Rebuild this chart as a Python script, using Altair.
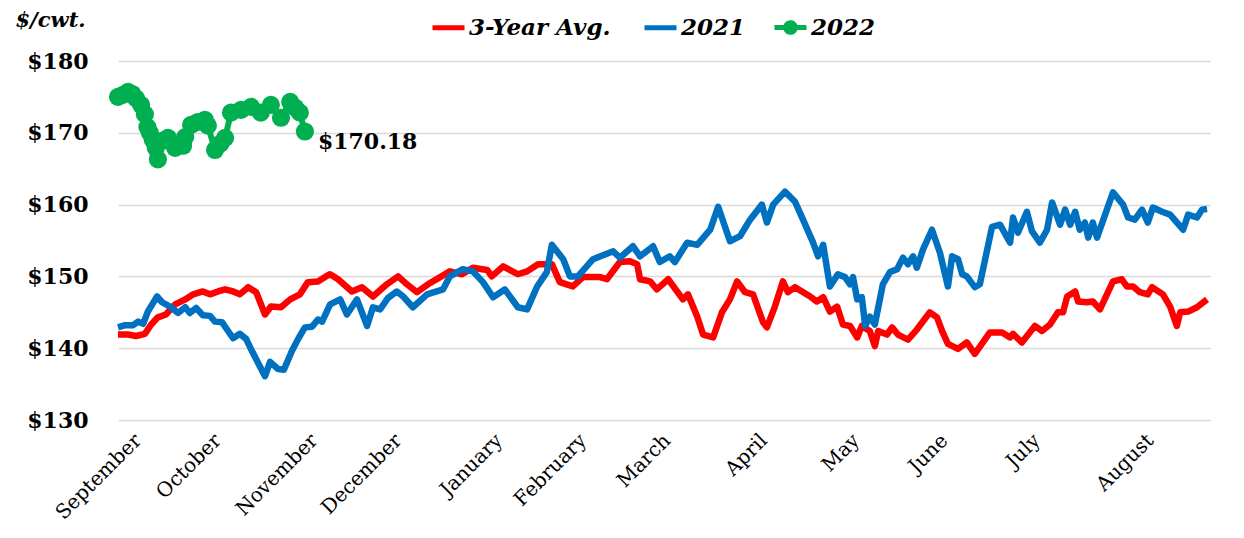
import altair as alt
import pandas as pd

# ---------------- data ----------------
months = ["September", "October", "November", "December", "January", "February",
          "March", "April", "May", "June", "July", "August"]
month_ticks = [3, 22, 45, 65, 89, 109, 129, 152, 174, 195, 217, 244]
y_ticks = [130, 140, 150, 160, 170, 180]

avg_day = [0, 2.4, 4.3, 6.4, 7.9, 9.5, 11.4, 13.6, 16.0, 17.9, 20.2, 21.9, 23.8, 25.5, 27.4, 29.0,
           31.0, 32.9, 35.0, 36.4, 38.8, 41.0, 43.3, 45.2, 47.6, 49.5, 50.5, 52.4, 55.7, 58.1, 60.7,
           64.0, 66.7, 68.8, 71.2, 73.8, 76.7, 79.0, 81.9, 84.5, 87.9, 89.0, 91.7, 95.2, 97.4, 100.0,
           103.3, 105.2, 108.3, 110.7, 114.8, 116.4, 119.5, 121.9, 123.6, 124.3, 126.7, 128.3, 131.0,
           134.5, 135.7, 137.9, 139.3, 141.7, 143.8, 145.7, 147.4, 149.3, 151.2, 153.6, 154.5, 156.4,
           158.3, 159.5, 161.2, 164.8, 166.4, 167.9, 169.5, 171.2, 172.6, 174.3, 176.0, 177.1, 179.0,
           180.2, 181.0, 183.1, 184.3, 185.7, 188.1, 190.2, 193.3, 195.0, 196.2, 197.6, 200.0, 202.1,
           204.0, 207.6, 210.5, 212.4, 213.1, 215.2, 218.3, 220.0, 221.9, 223.8, 225.0, 226.0, 227.9,
           228.6, 230.7, 232.1, 233.8, 236.9, 239.0, 240.2, 241.7, 243.3, 245.2, 246.2, 248.8, 250.5,
           252.1, 252.9, 254.8, 256.9, 259.3]
avg_val = [141.9, 141.9, 141.7, 142.0, 143.3, 144.3, 144.7, 146.1, 146.8, 147.5, 147.9, 147.5, 147.9,
           148.2, 147.9, 147.5, 148.5, 147.8, 144.7, 145.8, 145.7, 146.8, 147.5, 149.2, 149.3, 150.0,
           150.3, 149.6, 147.9, 148.5, 147.2, 148.9, 150.0, 148.9, 147.8, 148.9, 149.9, 150.7, 150.3,
           151.2, 150.9, 150.0, 151.4, 150.3, 150.7, 151.7, 151.7, 149.2, 148.6, 149.9, 149.9, 149.6,
           152.0, 152.1, 151.7, 149.6, 149.3, 148.2, 149.6, 146.8, 147.5, 144.4, 141.9, 141.5, 145.0,
           146.8, 149.3, 147.8, 147.5, 143.6, 142.9, 145.8, 149.3, 147.8, 148.5, 147.2, 146.5, 147.1,
           145.1, 145.8, 143.3, 143.1, 141.5, 143.1, 142.4, 140.3, 142.4, 141.9, 142.9, 141.9, 141.2,
           142.6, 145.0, 144.3, 142.4, 140.6, 139.9, 140.8, 139.2, 142.2, 142.2, 141.5, 142.0, 140.8,
           143.1, 142.4, 143.3, 145.0, 145.0, 147.2, 147.9, 146.5, 146.4, 146.5, 145.4, 149.3, 149.6,
           148.6, 148.6, 147.8, 147.5, 148.5, 147.5, 145.8, 143.1, 145.0, 145.1, 145.7, 146.8]

y2021_day = [0, 1.7, 3.6, 4.8, 6.0, 7.1, 9.3, 10.5, 12.4, 14.3, 16.0, 17.1, 18.6, 20.2, 21.9, 23.1,
             24.8, 26.2, 27.4, 29.0, 30.5, 31.9, 33.3, 35.0, 36.2, 38.1, 39.5, 41.4, 42.9, 44.5, 46.2,
             47.6, 48.6, 50.5, 52.9, 54.5, 56.9, 59.3, 60.7, 62.4, 64.3, 66.4, 67.9, 70.2, 73.6, 77.4,
             79.0, 82.1, 84.5, 86.9, 89.3, 92.1, 95.2, 97.4, 99.8, 102.1, 103.3, 106.0, 107.6, 109.5,
             113.1, 117.9, 119.5, 122.6, 124.3, 127.4, 129.0, 131.4, 132.6, 135.5, 137.9, 141.0, 142.9,
             145.7, 148.1, 150.5, 153.3, 154.5, 156.0, 158.8, 161.2, 163.1, 165.5, 166.7, 167.9, 169.5,
             171.4, 173.1, 174.3, 175.0, 176.0, 177.1, 177.9, 179.0, 180.2, 182.1, 183.8, 185.5, 186.9,
             188.1, 189.3, 190.2, 191.7, 193.8, 195.7, 197.6, 198.6, 200.0, 201.0, 202.1, 204.0, 205.2,
             208.1, 210.0, 212.4, 213.1, 214.3, 216.4, 217.6, 219.5, 221.2, 222.4, 224.3, 225.5, 226.7,
             227.9, 229.0, 230.2, 231.0, 232.1, 233.1, 236.9, 239.3, 240.5, 242.1, 243.8, 245.2, 246.4,
             248.6, 250.5, 253.6, 254.8, 256.9, 258.1, 259.3]
y2021_val = [142.9, 143.2, 143.2, 143.7, 143.4, 145.1, 147.2, 146.4, 145.8, 144.9, 145.7, 144.9, 145.6,
             144.6, 144.5, 143.7, 143.6, 142.4, 141.4, 142.0, 141.3, 139.6, 138.0, 136.1, 138.1, 137.1,
             137.0, 139.6, 141.3, 142.9, 143.0, 144.0, 143.7, 146.1, 146.8, 144.7, 146.8, 143.1, 145.7,
             145.4, 147.0, 147.9, 147.2, 145.7, 147.5, 148.2, 150.0, 151.0, 150.7, 149.2, 147.1, 148.2,
             145.7, 145.4, 148.6, 150.6, 154.4, 152.4, 150.0, 150.0, 152.4, 153.5, 152.6, 154.2, 152.8,
             154.2, 152.0, 152.8, 152.0, 154.7, 154.4, 156.5, 159.7, 154.9, 155.6, 157.9, 160.0, 157.5,
             160.0, 161.8, 160.4, 157.9, 154.7, 152.8, 154.4, 148.6, 150.3, 149.9, 148.9, 149.9, 146.8,
             147.1, 143.1, 144.4, 143.3, 148.9, 150.6, 151.0, 152.6, 151.7, 152.8, 151.2, 153.8, 156.5,
             153.3, 148.6, 152.8, 152.4, 150.3, 150.0, 148.5, 148.9, 156.9, 157.2, 154.7, 158.2, 156.1,
             159.0, 156.3, 154.7, 156.5, 160.3, 157.2, 159.3, 157.2, 159.0, 156.5, 157.5, 155.4, 157.5,
             155.4, 161.7, 160.0, 158.2, 157.9, 159.3, 157.5, 159.6, 159.0, 158.6, 156.5, 158.6, 158.2,
             159.3, 159.4]

y2022_day = [0, 1.2, 2.4, 3.4, 4.3, 5.5, 6.4, 7.0, 7.6, 8.3, 9.0, 9.5, 10.7, 11.9, 13.6, 15.5, 16.0,
             17.4, 19.0, 20.7, 21.4, 23.1, 24.4, 25.5, 26.9, 29.3, 31.7, 34.0, 36.4, 38.8, 41.0, 42.2,
             43.3, 44.5]
y2022_val = [175.0, 175.3, 175.7, 175.4, 174.8, 173.9, 172.6, 170.8, 170.0, 169.0, 167.9, 166.3, 168.9,
             169.3, 167.9, 168.2, 169.4, 171.1, 171.5, 171.8, 171.0, 167.6, 168.5, 169.3, 172.8, 173.2,
             173.6, 172.8, 173.9, 172.1, 174.3, 173.5, 172.8, 170.18]

series_names = ["3-Year Avg.", "2021", "2022"]
series_colors = ["#FF0000", "#0070C0", "#00B050"]

# ---------------- tables ----------------
df_main = pd.concat([
    pd.DataFrame({"series": series_names[0], "day": avg_day, "value": avg_val}),
    pd.DataFrame({"series": series_names[1], "day": y2021_day, "value": y2021_val}),
], ignore_index=True)
df_22 = pd.DataFrame({"series": series_names[2], "day": y2022_day, "value": y2022_val})
df_last = df_22.tail(1)
# legend-only helper: lies outside the x domain and is clipped away
df_dummy = pd.DataFrame({"series": [series_names[2]] * 2, "day": [-90, -80], "value": [150, 150]})

FONT = "DejaVu Serif"
tick_arr = "[" + ",".join(str(t) for t in month_ticks) + "]"
name_arr = "[" + ",".join("'" + m + "'" for m in months) + "]"


def xenc():
    return alt.X(
        "day:Q",
        scale=alt.Scale(domain=[0, 260], nice=False, zero=False),
        axis=alt.Axis(values=month_ticks,
                      labelExpr=f"{name_arr}[indexof({tick_arr}, datum.value)]",
                      labelAngle=-45, labelAlign="right", labelBaseline="top",
                      labelFont=FONT, labelFontSize=20, labelColor="#000000",
                      labelPadding=10, labelOverlap=False, labelFlush=False, labelBound=False,
                      grid=False, domain=False, ticks=False, title=None),
    )


def yenc():
    return alt.Y(
        "value:Q",
        scale=alt.Scale(domain=[130, 180], nice=False, zero=False),
        axis=alt.Axis(values=y_ticks, labelExpr="'$' + datum.value",
                      labelFont=FONT, labelFontSize=22, labelFontWeight="bold",
                      labelColor="#000000", labelPadding=30,
                      grid=True, gridColor="#D9D9D9", gridWidth=1.5,
                      domain=False, ticks=False,
                      title="$/cwt.", titleAngle=0, titleX=-103, titleY=-41,
                      titleAlign="left", titleBaseline="middle", titleFont=FONT,
                      titleFontSize=21, titleFontStyle="italic", titleFontWeight="bold",
                      titleColor="#000000"),
    )


lines = alt.Chart(df_main).mark_line(strokeWidth=6.5, strokeJoin="round").encode(
    x=xenc(), y=yenc(),
    color=alt.Color("series:N",
                    scale=alt.Scale(domain=series_names[:2], range=series_colors[:2]),
                    legend=alt.Legend(orient="none", legendX=312, legendY=-52,
                                      direction="horizontal", title=None,
                                      symbolType="stroke", symbolSize=1024,
                                      symbolStrokeWidth=5, labelOffset=2,
                                      columnPadding=23, labelFont=FONT, labelFontSize=23,
                                      labelFontStyle="italic", labelFontWeight="bold",
                                      labelColor="#000000", labelLimit=300)),
    order=alt.Order("day:Q"),
)

line22 = alt.Chart(df_22).mark_line(strokeWidth=6, color=series_colors[2]).encode(
    x=xenc(), y=yenc(), order=alt.Order("day:Q"))

pts22 = alt.Chart(df_22).mark_circle(size=330, opacity=1, color=series_colors[2]).encode(
    x=xenc(), y=yenc())

legend_path = "M-1,0H1M0.3,0A0.3,0.3,0,1,1,-0.3,0A0.3,0.3,0,1,1,0.3,0"
dummy = alt.Chart(df_dummy).mark_line(
    clip=True, color=series_colors[2], strokeWidth=5).encode(
    x=xenc(), y=yenc(),
    strokeDash=alt.StrokeDash(
        "series:N", scale=alt.Scale(domain=[series_names[2]], range=[[1, 0]]),
        legend=alt.Legend(orient="none", legendX=654, legendY=-52,
                          direction="horizontal", title=None,
                          symbolType=legend_path, symbolSize=1024, symbolStrokeWidth=5,
                          symbolFillColor=series_colors[2],
                          symbolStrokeColor=series_colors[2],
                          labelOffset=2, labelFont=FONT, labelFontSize=23,
                          labelFontStyle="italic", labelFontWeight="bold",
                          labelColor="#000000")),
)

label = alt.Chart(df_last).mark_text(
    align="left", baseline="middle", dx=13, dy=10, font=FONT, fontSize=22,
    fontWeight="bold", color="#000000").encode(
    x=xenc(), y=yenc(), text=alt.Text("value:Q", format="$.2f"))

chart = alt.layer(lines, line22, pts22, dummy, label).properties(
    width=1092, height=359,
    autosize=alt.AutoSizeParams(type="none"),
    padding={"left": 110, "top": 53, "right": 20, "bottom": 110},
    background="#FFFFFF",
).configure_view(stroke=None)

chart.save("out.html", embed_options={"renderer": "svg", "actions": False})
